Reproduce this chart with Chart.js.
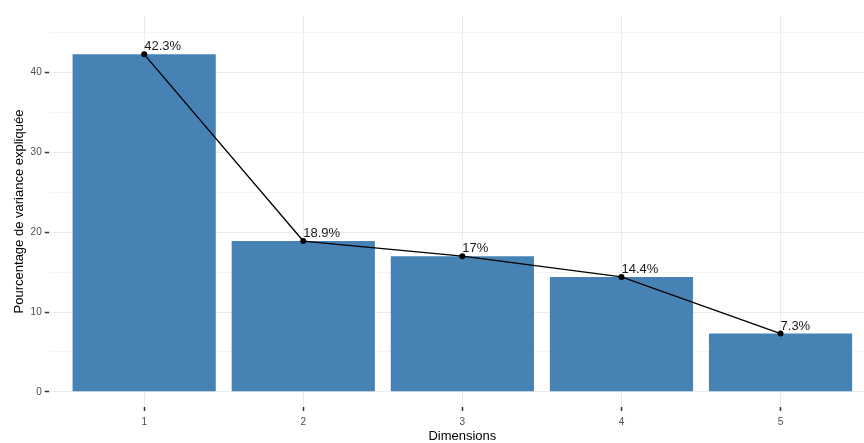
<!DOCTYPE html>
<html>
<head>
<meta charset="utf-8">
<script src="https://cdn.jsdelivr.net/npm/chart.js@4"></script>
<style>
  html, body { margin: 0; padding: 0; background: #fff; overflow: hidden; }
  #wrap { width: 880px; height: 443px; }
</style>
</head>
<body>
<div id="wrap"><canvas id="screeChart" width="880" height="443"></canvas></div>
<script>
const dimensions = [1, 2, 3, 4, 5];
const variancePct = [42.3, 18.9, 17, 14.4, 7.3];
const pctLabels = ["42.3%", "18.9%", "17%", "14.4%", "7.3%"];
const yTicks = [0, 5, 10, 15, 20, 25, 30, 35, 40, 45];

const points = dimensions.map((d, i) => ({ x: d, y: variancePct[i] }));

// labels written just above-right of each point, like geom_text(hjust = 0)
const pointLabels = {
  id: "pointLabels",
  afterDatasetsDraw(chart) {
    const meta = chart.getDatasetMeta(0);
    const ctx = chart.ctx;
    ctx.save();
    ctx.font = "13px 'Liberation Sans', Arial, sans-serif";
    ctx.fillStyle = "#1a1a1a";
    ctx.textAlign = "left";
    ctx.textBaseline = "alphabetic";
    meta.data.forEach((pt, i) => {
      ctx.fillText(pctLabels[i], pt.x, pt.y - 4);
    });
    ctx.restore();
  }
};

const ctx = document.getElementById("screeChart").getContext("2d");
new Chart(ctx, {
  type: "bar",
  data: {
    datasets: [{
      type: "line",
      data: points,
      borderColor: "#000",
      backgroundColor: "#000",
      borderWidth: 1.3,
      pointRadius: 3,
      pointBackgroundColor: "#000",
      pointBorderWidth: 0,
      tension: 0
    }, {
      type: "bar",
      data: points,
      backgroundColor: "#4682B4",
      borderWidth: 0,
      barPercentage: 0.9,
      categoryPercentage: 1.0
    }]
  },
  options: {
    responsive: false,
    animation: false,
    layout: { padding: { top: 16, right: 2, bottom: 0, left: 12 } },
    plugins: {
      legend: { display: false },
      tooltip: { enabled: false }
    },
    scales: {
      x: {
        type: "linear",
        offset: false,
        min: 0.4,
        max: 5.6,
        afterBuildTicks: axis => { axis.ticks = dimensions.map(d => ({ value: d })); },
        afterFit: axis => { axis.height = 36; },
        grid: {
          offset: false,
          color: "#ebebeb",
          tickColor: "#333",
          tickLength: 4,
          tickWidth: 1.5
        },
        border: { display: false },
        ticks: {
          color: "#4d4d4d",
          font: { family: "'Liberation Sans', Arial, sans-serif", size: 10 },
          padding: 5
        },
        title: {
          display: true,
          text: "Dimensions",
          color: "#000",
          font: { family: "'Liberation Sans', Arial, sans-serif", size: 13, lineHeight: 1 },
          padding: { top: 0, bottom: 0 }
        }
      },
      y: {
        min: -1.9,
        max: 47.1,
        afterBuildTicks: axis => { axis.ticks = yTicks.map(v => ({ value: v })); },
        grid: {
          color: c => (c.tick && c.tick.value % 10 === 0) ? "#ebebeb" : "#f5f5f5",
          tickColor: c => (c.tick && c.tick.value % 10 === 0) ? "#333" : "rgba(0,0,0,0)",
          tickLength: 4,
          tickWidth: 1.5
        },
        border: { display: false },
        ticks: {
          color: "#4d4d4d",
          font: { family: "'Liberation Sans', Arial, sans-serif", size: 10 },
          padding: 3,
          callback: v => (v % 10 === 0 ? v : "")
        },
        title: {
          display: true,
          text: "Pourcentage de variance expliquée",
          color: "#000",
          font: { family: "'Liberation Sans', Arial, sans-serif", size: 13 },
          padding: { top: 0, bottom: 0 }
        }
      }
    }
  },
  plugins: [pointLabels]
});
</script>
</body>
</html>
